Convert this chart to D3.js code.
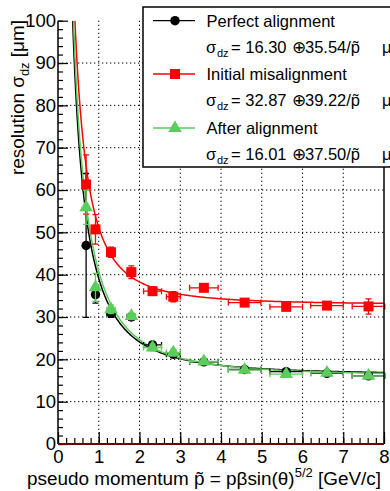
<!DOCTYPE html>
<html>
<head>
<meta charset="utf-8">
<script src="https://cdn.jsdelivr.net/npm/d3@7"></script>
<style>
  body { margin: 0; background: #fff; }
  svg { display: block; font-family: "Liberation Sans", Arial, sans-serif; }
  .tick line { stroke: #000; }
  .tick text { font-size: 18.5px; fill: #000; }
</style>
</head>
<body>
<div id="chart"></div>
<script>
"use strict"

// bin centres and half widths of the pseudo momentum
const pBins   = [0.69, 0.92, 1.30, 1.80, 2.32, 2.83, 3.58, 4.58, 5.60, 6.60, 7.62];
const pErr    = [0.05, 0.06, 0.10, 0.10, 0.22, 0.17, 0.35, 0.40, 0.40, 0.40, 0.40];

// resolution values per series (µm)
const perfectVal = [46.9, 35.3, 30.9, 30.0, 23.4, 21.2, 19.4, 17.6, 17.1, 16.7, 16.1];
const perfectErr = [17.0, 2.0, 1.0, 0.8, 0.8, 0.8, 0.6, 0.5, 0.5, 0.5, 0.5];
const misalVal   = [61.3, 50.7, 45.3, 40.6, 36.1, 34.8, 36.9, 33.4, 32.4, 32.7, 32.5];
const misalErr   = [7.0, 3.5, 1.2, 1.5, 1.0, 1.2, 0.8, 0.6, 0.7, 0.6, 1.8];
const afterVal   = [55.9, 37.0, 31.8, 30.2, 22.8, 21.6, 19.5, 17.5, 16.5, 16.8, 16.1];
const afterErr   = [4.0, 3.3, 1.0, 0.8, 0.8, 0.8, 0.6, 0.5, 0.5, 0.5, 0.5];

// fit parameters sigma = a (+) b/p
const fitConst = [16.30, 32.87, 16.01];
const fitSlope = [35.54, 39.22, 37.50];

const seriesNames = ["Perfect alignment", "Initial misalignment", "After alignment"];

const xTicks = [0, 1, 2, 3, 4, 5, 6, 7, 8];
const yTicks = [0, 10, 20, 30, 40, 50, 60, 70, 80, 90, 100];

document.addEventListener('DOMContentLoaded', function(){
  drawChart();
});

function drawChart(){
  let svgWidth = 390;
  let svgHeight = 491;
  let left = 58, right = 384, top = 20.7, bottom = 444;

  const colors = ["#000000", "#ff0000", "#5ccc5c"];
  const shapes = [d3.symbolCircle, d3.symbolSquare, d3.symbolTriangle];
  const sizes = [70, 100, 80];

  const svg = d3.select('#chart')
    .append('svg')
    .attr('width', svgWidth)
    .attr('height', svgHeight);

  const xScale = d3.scaleLinear().domain([0, 8]).range([left, right]);
  const yScale = d3.scaleLinear().domain([0, 100]).range([bottom, top]);

  // grid
  svg.append('g').selectAll('line')
    .data(xTicks.slice(1, -1))
    .enter().append('line')
    .attr('x1', d => xScale(d)).attr('x2', d => xScale(d))
    .attr('y1', yScale(100)).attr('y2', yScale(0))
    .attr('stroke', '#000').attr('stroke-width', 1)
    .attr('stroke-dasharray', '1.3,2.7');
  svg.append('g').selectAll('line')
    .data(yTicks.slice(1, -1))
    .enter().append('line')
    .attr('x1', xScale(0)).attr('x2', xScale(8))
    .attr('y1', d => yScale(d)).attr('y2', d => yScale(d))
    .attr('stroke', '#000').attr('stroke-width', 1)
    .attr('stroke-dasharray', '1.3,2.7');

  // fit curves
  svg.append('clipPath').attr('id', 'clip')
    .append('rect').attr('x', left).attr('y', top)
    .attr('width', right - left).attr('height', bottom - top);

  const line = d3.line().x(d => xScale(d[0])).y(d => yScale(d[1]));
  fitConst.forEach((a, i) => {
    let b = fitSlope[i];
    let pStart = b / Math.sqrt(100 * 100 - a * a);
    let pts = d3.range(0, 301).map(k => {
      let p = pStart + (8 - pStart) * Math.pow(k / 300, 2);
      return [p, Math.sqrt(a * a + (b / p) * (b / p))];
    });
    svg.append('path')
      .attr('d', line(pts))
      .attr('fill', 'none')
      .attr('stroke', colors[i])
      .attr('stroke-width', 1.5)
      .attr('clip-path', 'url(#clip)');
  });

  // points with error bars
  const allVals = [perfectVal, misalVal, afterVal];
  const allErrs = [perfectErr, misalErr, afterErr];
  allVals.forEach((vals, s) => {
    let g = svg.append('g');
    let data = vals.map((v, i) => ({ x: pBins[i], xe: pErr[i], y: v, ye: allErrs[s][i] }));
    let cap = 3;
    data.forEach(d => {
      let cx = xScale(d.x), cy = yScale(d.y);
      let x0 = xScale(d.x - d.xe), x1 = xScale(d.x + d.xe);
      let y0 = yScale(d.y - d.ye), y1 = yScale(d.y + d.ye);
      let path = `M${x0},${cy}H${x1}M${x0},${cy - cap}V${cy + cap}M${x1},${cy - cap}V${cy + cap}` +
                 `M${cx},${y0}V${y1}M${cx - cap},${y0}H${cx + cap}M${cx - cap},${y1}H${cx + cap}`;
      g.append('path').attr('d', path)
        .attr('stroke', colors[s]).attr('stroke-width', 1.3).attr('fill', 'none');
    });
    g.selectAll('path.marker')
      .data(data).enter().append('path')
      .attr('class', 'marker')
      .attr('d', d3.symbol().type(shapes[s]).size(sizes[s]))
      .attr('transform', d => `translate(${xScale(d.x)},${yScale(d.y)})`)
      .attr('fill', colors[s]);
  });

  // axes
  const xAxis = d3.axisBottom(xScale).tickValues(xTicks).tickSizeInner(-12).tickSizeOuter(0).tickPadding(6);
  const xMinor = d3.axisBottom(xScale).tickValues(d3.range(0, 41).map(k => k * 0.2)).tickSizeInner(-6).tickSizeOuter(0).tickFormat('');
  const yAxis = d3.axisLeft(yScale).tickValues(yTicks).tickSizeInner(-10).tickSizeOuter(0).tickPadding(2);
  const yMinor = d3.axisLeft(yScale).tickValues(d3.range(0, 51).map(k => k * 2)).tickSizeInner(-5).tickSizeOuter(0).tickFormat('');

  [xMinor, xAxis].forEach(ax => {
    svg.append('g').attr('transform', `translate(0,${bottom})`).call(ax)
      .call(g => g.select('.domain').remove());
  });
  [yMinor, yAxis].forEach(ax => {
    svg.append('g').attr('transform', `translate(${left},0)`).call(ax)
      .call(g => g.select('.domain').remove());
  });
  svg.selectAll('.tick line').attr('stroke-width', 1.2);

  svg.append('line').attr('x1', left).attr('x2', left).attr('y1', top).attr('y2', bottom)
    .attr('stroke', '#000').attr('stroke-width', 1.5);
  svg.append('line').attr('x1', right).attr('x2', right).attr('y1', top).attr('y2', bottom)
    .attr('stroke', '#000').attr('stroke-width', 1.5);
  svg.append('line').attr('x1', left).attr('x2', right).attr('y1', bottom).attr('y2', bottom)
    .attr('stroke', '#700000').attr('stroke-width', 1.8);

  // axis titles
  let xt = svg.append('text')
    .attr('x', 381).attr('y', 484.5)
    .attr('text-anchor', 'end')
    .attr('font-size', 18.9);
  xt.append('tspan').text('pseudo momentum  p\u0303 = p\u03b2sin(\u03b8)');
  xt.append('tspan').attr('dy', -8).attr('font-size', 13).text('5/2');
  xt.append('tspan').attr('dy', 8).text(' [GeV/c]');

  let yt = svg.append('text')
    .attr('transform', 'translate(24,20) rotate(-90)')
    .attr('text-anchor', 'end')
    .attr('font-size', 18.9);
  yt.append('tspan').text('resolution \u03c3');
  yt.append('tspan').attr('dy', 5).attr('font-size', 13).text('dz');
  yt.append('tspan').attr('dy', -5).text(' [\u03bcm]');

  // legend
  let lg = svg.append('g');
  lg.append('rect').attr('x', 143).attr('y', 7).attr('width', 260).attr('height', 160)
    .attr('fill', '#fff').attr('stroke', '#000').attr('stroke-width', 1.5);

  const rowY = [20.7, 74, 128];
  seriesNames.forEach((name, s) => {
    let y = rowY[s];
    lg.append('line').attr('x1', 153).attr('x2', 195).attr('y1', y).attr('y2', y)
      .attr('stroke', colors[s]).attr('stroke-width', 1.3);
    lg.append('path').attr('d', d3.symbol().type(shapes[s]).size(sizes[s]))
      .attr('transform', `translate(175,${y})`).attr('fill', colors[s]);
    lg.append('text').attr('x', 206.5).attr('y', y + 6).attr('font-size', 16.5).text(name);

    let fy = y + 32;
    let ft = lg.append('text').attr('y', fy).attr('font-size', 16.5);
    ft.append('tspan').attr('x', 206).text('\u03c3');
    ft.append('tspan').attr('x', 217).attr('dy', 4).attr('font-size', 11).text('dz');
    ft.append('tspan').attr('x', 231).attr('dy', -4).text('= ' + fitConst[s].toFixed(2));
    ft.append('tspan').attr('x', 292).text('\u2295');
    ft.append('tspan').attr('x', 305).text(fitSlope[s].toFixed(2) + '/p\u0303');
    ft.append('tspan').attr('x', 382).text('\u03bcm');
  });
}
</script>
</body>
</html>
